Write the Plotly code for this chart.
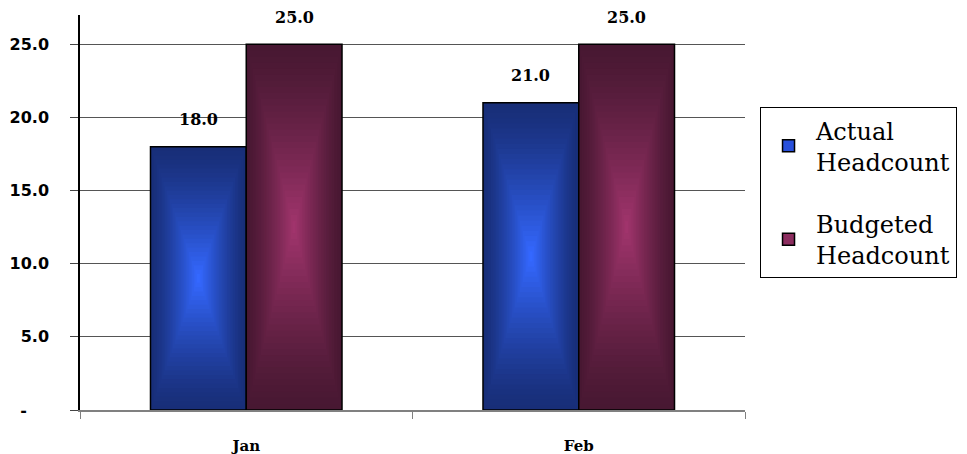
import plotly.graph_objects as go

months = ["Jan", "Feb"]
actual = [18.0, 21.0]
budgeted = [25.0, 25.0]
series_names = ["Actual<br>Headcount", "Budgeted<br>Headcount"]
ytick_vals = [0, 5, 10, 15, 20, 25]
ytick_text = ["-\u2007\u2007", "5.0", "10.0", "15.0", "20.0", "25.0"]

BAR_W = 0.288
N_LAYERS = 30

def lerp(c1, c2, t):
    return "rgb(%d,%d,%d)" % tuple(round(a + (b - a) * t) for a, b in zip(c1, c2))

fig = go.Figure()

specs = [
    (actual, -BAR_W / 2, (24, 46, 120), (52, 104, 255), series_names[0], "rgb(40,80,220)", "a"),
    (budgeted, BAR_W / 2, (72, 24, 50), (160, 52, 108), series_names[1], "rgb(140,45,95)", "b"),
]

for vals, center, edge, mid, name, legend_col, grp in specs:
    for k in range(N_LAYERS):
        f = k / N_LAYERS
        w = BAR_W * (1 - f)
        t = (k / (N_LAYERS - 1)) ** 1.3
        fig.add_trace(go.Bar(
            x=months,
            y=[v * (1 - f) for v in vals],
            base=[v * f / 2 for v in vals],
            width=w,
            offset=center - w / 2,
            marker=dict(color=lerp(edge, mid, t),
                        line=dict(color="black", width=1.5 if k == 0 else 0)),
            showlegend=False,
            legendgroup=grp,
            hoverinfo="skip",
        ))
    fig.add_trace(go.Bar(
        x=[None], y=[None], name=name, legendgroup=grp,
        marker=dict(color=legend_col, line=dict(color="black", width=1.5)),
        showlegend=True,
    ))

# data labels
for vals, center in [(actual, -BAR_W / 2), (budgeted, BAR_W / 2)]:
    for m, v in zip(months, vals):
        fig.add_annotation(
            x=m, y=v, text="%.1f" % v, showarrow=False,
            xshift=center * 333, yshift=27, yanchor="middle",
            font=dict(family="DejaVu Serif", size=16, color="black", weight="bold"),
        )

# page body has an 8px margin, so the figure is sized/offset to compensate
fig.update_layout(
    width=959, height=446,
    margin=dict(l=72, r=222, t=7, b=44, autoexpand=False),
    paper_bgcolor="white", plot_bgcolor="white",
    barmode="overlay",
    showlegend=True,
    legend=dict(
        x=1.0226, y=0.767, xanchor="left", yanchor="top",
        bordercolor="black", borderwidth=1, bgcolor="white",
        font=dict(family="DejaVu Serif", size=24, color="black"),
        tracegroupgap=28, itemwidth=45, traceorder="grouped",
    ),
)

fig.update_xaxes(
    type="category", range=[-0.5, 1.5], automargin=False,
    showline=True, linecolor="#808080", linewidth=1.5,
    ticks="outside", tickson="boundaries", ticklen=7, tickcolor="#808080",
    ticklabelstandoff=21,
    tickfont=dict(family="DejaVu Serif", size=15, color="black", weight="bold"),
    showgrid=False, zeroline=False,
)
fig.update_yaxes(
    range=[0, 27], tickvals=ytick_vals, ticktext=ytick_text, automargin=False,
    showline=True, linecolor="black", linewidth=1.5,
    ticks="outside", ticklen=8, tickcolor="#444",
    ticklabelstandoff=18,
    tickfont=dict(family="DejaVu Sans", size=16, color="black", weight="bold"),
    showgrid=True, gridcolor="#555", gridwidth=1,
    zeroline=False,
)

fig.write_html("out.html")
